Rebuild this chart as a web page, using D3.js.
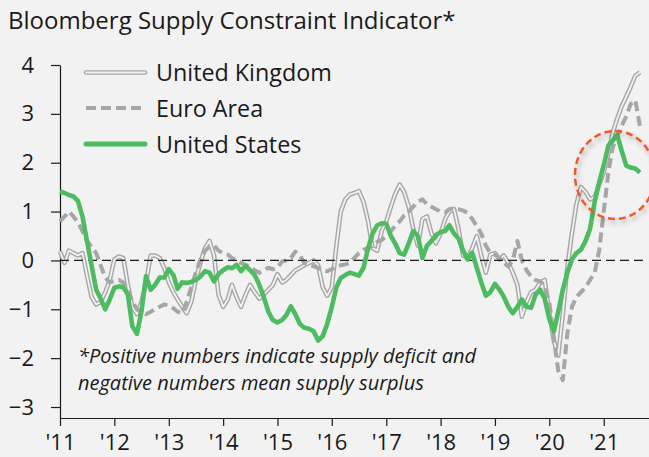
<!DOCTYPE html>
<html><head><meta charset="utf-8">
<script src="https://cdn.jsdelivr.net/npm/d3@7"></script>
<style>
html,body{margin:0;padding:0;background:#f2f2f2;}
svg{display:block;font-family:"Open Sans","Noto Sans",sans-serif;}
</style></head><body>
<svg id="chart" width="649" height="457"></svg>
<script>
const titleText = "Bloomberg Supply Constraint Indicator*";
const seriesNames = ["United Kingdom", "Euro Area", "United States"];
const startYear = 2011, startMonth = 0;
const yearTicks = [2011, 2012, 2013, 2014, 2015, 2016, 2017, 2018, 2019, 2020, 2021];
const yearLabels = ["'11", "'12", "'13", "'14", "'15", "'16", "'17", "'18", "'19", "'20", "'21"];
const yTicks = [-3, -2, -1, 0, 1, 2, 3, 4];
const noteLines = ["*Positive numbers indicate supply deficit and", "negative numbers mean supply surplus"];

// monthly values, Jan 2011 onwards
const ukValues = [
  0.18,-0.05,0.20,0.15,0.10,0.15,-0.30,-0.75,-0.90,-0.85,
  -0.65,-0.40,0.02,0.08,0.05,-0.50,-0.95,-1.10,-0.85,-0.45,
  0.10,0.10,0.05,-0.15,-0.45,-0.65,-0.80,-0.95,-1.08,-0.85,
  -0.40,-0.05,0.25,0.40,0.10,-0.70,-0.95,-0.80,-0.50,-0.75,
  -0.95,-0.70,-0.50,-0.65,-0.78,-0.70,-0.60,-0.50,-0.28,-0.45,
  -0.40,-0.30,-0.20,-0.15,-0.10,-0.05,0.00,-0.10,-0.55,-0.72,
  -0.55,0.30,1.00,1.25,1.35,1.38,1.42,1.20,0.80,0.25,
  0.20,0.60,0.80,1.10,1.35,1.55,1.40,1.10,0.65,0.30,
  0.85,0.90,0.55,0.35,0.55,0.85,1.00,1.05,0.65,0.10,
  0.05,0.25,0.50,0.10,-0.25,0.12,0.15,0.02,0.10,-0.05,
  -0.25,-0.50,-1.15,-0.85,-0.65,-0.60,-0.45,-0.40,-1.05,-1.65,
  -1.95,-1.10,-0.15,0.55,1.15,1.50,1.40,1.25,1.30,1.55,
  1.80,2.20,2.60,2.90,3.15,3.35,3.55,3.78,3.85
];
const euroValues = [
  0.80,0.90,1.00,0.90,0.78,0.60,0.40,0.28,0.15,-0.10,
  -0.35,-0.45,-0.42,-0.40,-0.45,-0.60,-0.85,-1.00,-1.05,-1.10,
  -1.05,-1.00,-0.95,-0.90,-0.92,-0.98,-1.05,-1.08,-0.85,-0.55,
  -0.25,0.02,0.20,0.28,0.30,0.20,0.15,0.12,0.05,0.00,
  -0.05,-0.10,-0.12,-0.20,-0.25,-0.20,-0.15,-0.18,-0.15,-0.02,
  0.00,0.05,0.18,0.10,-0.05,-0.10,-0.12,-0.15,-0.20,-0.22,
  -0.18,-0.12,-0.10,-0.08,-0.05,0.05,0.15,0.22,0.25,0.30,
  0.38,0.42,0.50,0.60,0.70,0.80,0.92,1.00,1.10,1.20,
  1.25,1.15,1.10,1.05,1.00,0.98,1.05,1.07,1.05,1.02,
  0.97,0.85,0.70,0.55,0.30,0.15,0.12,0.05,-0.05,-0.12,
  0.00,0.40,0.00,-0.20,-0.33,-0.40,-0.43,-0.53,-0.85,-1.60,
  -2.25,-2.45,-1.50,-0.95,-0.75,-0.65,-0.55,-0.40,-0.25,0.20,
  1.00,1.80,2.30,2.55,2.75,2.95,3.20,3.28,2.75
];
const usValues = [
  1.41,1.38,1.34,1.31,1.22,0.90,0.40,-0.10,-0.60,-0.78,
  -1.00,-0.80,-0.56,-0.53,-0.55,-0.70,-1.35,-1.50,-1.05,-0.32,
  -0.60,-0.50,-0.35,-0.35,-0.18,-0.30,-0.58,-0.45,-0.46,-0.44,
  -0.40,-0.33,-0.22,-0.25,-0.43,-0.28,-0.20,-0.14,-0.16,-0.09,
  -0.22,-0.11,-0.20,-0.30,-0.50,-0.75,-1.05,-1.22,-1.27,-1.22,
  -1.12,-0.94,-1.10,-1.30,-1.38,-1.40,-1.45,-1.64,-1.55,-1.30,
  -0.95,-0.55,-0.36,-0.30,-0.25,-0.28,-0.31,-0.15,0.25,0.55,
  0.72,0.76,0.75,0.50,0.35,0.15,0.12,0.35,0.60,0.50,
  0.05,0.30,0.40,0.52,0.58,0.60,0.72,0.55,0.45,0.20,
  0.02,0.16,-0.15,-0.45,-0.72,-0.65,-0.48,-0.60,-0.74,-0.95,
  -1.08,-0.95,-0.80,-0.95,-0.97,-0.70,-0.60,-0.78,-1.20,-1.45,
  -1.05,-0.60,-0.25,0.02,0.15,0.22,0.40,0.65,1.20,1.60,
  1.95,2.35,2.45,2.57,2.25,1.94,1.90,1.88,1.80
];

const colors = { grey: "#a6a6a6", green: "#4dbb5f", bg: "#f2f2f2", text: "#1a1a1a", red: "#ee5a2c" };

const svg = d3.select("#chart");
const W = 649, H = 457;
const plotLeft = 60, plotRight = 649, plotTop = 65, axisY = 418;

const dateOf = i => new Date(startYear, startMonth + i, 1);
const x = d3.scaleTime()
  .domain([dateOf(0), dateOf(130)])
  .range([plotLeft, plotRight]);
const y = d3.scaleLinear().domain([-3.225, 4]).range([axisY, plotTop]);

svg.append("rect").attr("width", W).attr("height", H).attr("fill", colors.bg);

const defs = svg.append("defs");
const f = defs.append("filter").attr("id", "shadow").attr("x", "-30%").attr("y", "-30%").attr("width", "160%").attr("height", "160%");
f.append("feDropShadow").attr("dx", 2).attr("dy", 3).attr("stdDeviation", 2.5).attr("flood-color", "#000").attr("flood-opacity", 0.3);

// title
svg.append("text").attr("x", 8).attr("y", 29).attr("font-size", 24).attr("fill", colors.text).text(titleText);

// y axis
const yAxis = svg.append("g").attr("transform", `translate(${plotLeft},0)`)
  .call(d3.axisLeft(y).tickValues(yTicks).tickSize(9).tickPadding(17).tickSizeOuter(0).tickFormat(d3.format("d")));
yAxis.select(".domain").attr("stroke", colors.text).attr("stroke-width", 1.2);
yAxis.selectAll(".tick line").attr("stroke", colors.text).attr("stroke-width", 1.2);
yAxis.selectAll(".tick text").attr("font-size", 22).attr("fill", colors.text).attr("font-family", "Open Sans, sans-serif");

// x axis
const xAxis = svg.append("g").attr("transform", `translate(0,${axisY})`)
  .call(d3.axisBottom(x).tickValues(yearTicks.map(yr => new Date(yr, 0, 1))).tickSize(8).tickSizeOuter(0)
    .tickFormat((d, i) => yearLabels[i]));
xAxis.select(".domain").attr("stroke", colors.text).attr("stroke-width", 1.2);
xAxis.selectAll(".tick line").attr("stroke", colors.text).attr("stroke-width", 1.2);
xAxis.selectAll(".tick text").attr("font-size", 22).attr("fill", colors.text).attr("font-family", "Open Sans, sans-serif")
  .attr("y", 32).attr("dy", 0);

const toPts = vals => vals.map((v, i) => ({ d: dateOf(i), v }));
const line = d3.line().x(p => x(p.d)).y(p => y(p.v));

// United Kingdom (double line)
const ukPath = line(toPts(ukValues));
svg.append("path").attr("d", ukPath).attr("fill", "none").attr("stroke", colors.grey).attr("stroke-width", 4.6).attr("stroke-linejoin", "round");
svg.append("path").attr("d", ukPath).attr("fill", "none").attr("stroke", colors.bg).attr("stroke-width", 1.8).attr("stroke-linejoin", "round");

// Euro area (dashed)
svg.append("path").attr("d", line(toPts(euroValues))).attr("fill", "none").attr("stroke", colors.grey)
  .attr("stroke-width", 4).attr("stroke-dasharray", "10,5").attr("stroke-linejoin", "round");

// zero line
svg.append("line").attr("x1", plotLeft).attr("x2", 648).attr("y1", y(0)).attr("y2", y(0))
  .attr("stroke", colors.text).attr("stroke-width", 1.3).attr("stroke-dasharray", "9,5");

// United States
svg.append("path").attr("d", line(toPts(usValues))).attr("fill", "none").attr("stroke", colors.green)
  .attr("stroke-width", 4.6).attr("stroke-linejoin", "round");

// highlight ellipse
svg.append("ellipse").attr("cx", 615).attr("cy", 175).attr("rx", 40).attr("ry", 44)
  .attr("fill", "none").attr("stroke", colors.red).attr("stroke-width", 2.5).attr("stroke-dasharray", "7,4")
  .attr("filter", "url(#shadow)");

// legend
const legendY = [72.5, 108, 144];
const lg = svg.append("g");
seriesNames.forEach((name, i) => {
  const yy = legendY[i];
  if (i === 0) {
    lg.append("line").attr("x1", 86).attr("x2", 145).attr("y1", yy).attr("y2", yy).attr("stroke", colors.grey).attr("stroke-width", 4.6).attr("stroke-linecap", "round");
    lg.append("line").attr("x1", 86).attr("x2", 145).attr("y1", yy).attr("y2", yy).attr("stroke", colors.bg).attr("stroke-width", 1.8).attr("stroke-linecap", "round");
  } else if (i === 1) {
    lg.append("line").attr("x1", 86).attr("x2", 145).attr("y1", yy).attr("y2", yy).attr("stroke", colors.grey).attr("stroke-width", 4).attr("stroke-dasharray", "10,5");
  } else {
    lg.append("line").attr("x1", 86).attr("x2", 145).attr("y1", yy).attr("y2", yy).attr("stroke", colors.green).attr("stroke-width", 5).attr("stroke-linecap", "round");
  }
  lg.append("text").attr("x", 156).attr("y", yy + 8.5).attr("font-size", 23.3).attr("fill", colors.text).text(name);
});

// note
noteLines.forEach((t, i) => {
  svg.append("text").attr("x", 78).attr("y", 363 + i * 27).attr("font-size", 20).attr("font-style", "italic")
    .attr("fill", colors.text).text(t);
});
</script>
</body></html>
